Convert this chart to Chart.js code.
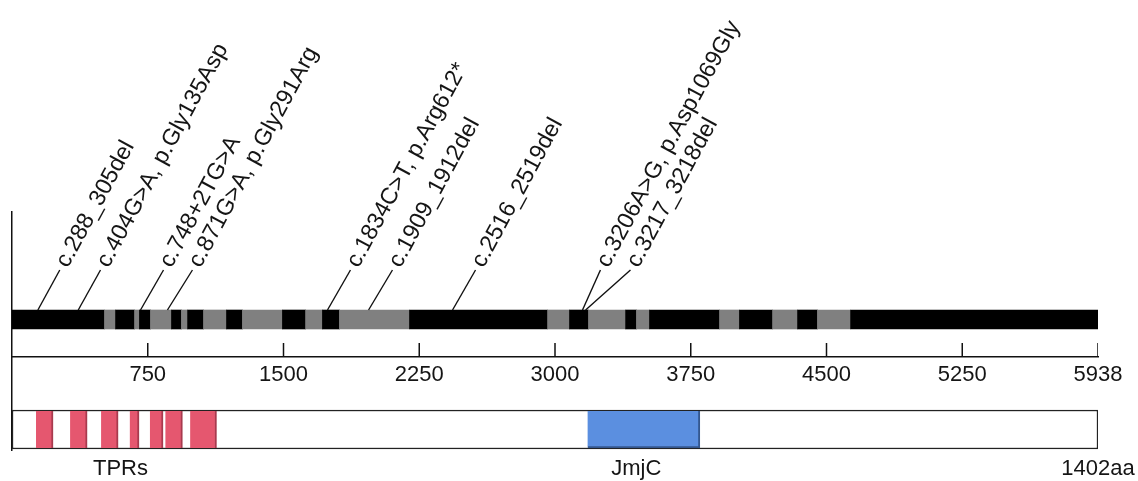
<!DOCTYPE html>
<html>
<head>
<meta charset="utf-8">
<title>Variant map</title>
<script src="https://cdn.jsdelivr.net/npm/chart.js@4.4.1/dist/chart.umd.min.js"></script>
<style>
  html, body { margin: 0; padding: 0; background: #fff; }
  #wrap { width: 1138px; height: 481px; }
</style>
</head>
<body>
<div id="wrap"><canvas id="chart"></canvas></div>
<script>
// cDNA axis, drawn 0..6000; the last tick marks the transcript end (5938)
var EXON_BREAKS = [0, 511, 572, 677, 704, 765, 881, 936, 970, 1058, 1185, 1273, 1494, 1622, 1715,
                   1809, 2196, 2959, 3080, 3185, 3390, 3450, 3522, 3909, 4019, 4202, 4340, 4450, 4633, 6000];
var TICK_VALUES = [750, 1500, 2250, 3000, 3750, 4500, 5250, 6000];
var TICK_LABELS = ['750', '1500', '2250', '3000', '3750', '4500', '5250', '5938'];

var MUT_LABELS = [
    'c.288_305del',
    'c.404G>A, p.Gly135Asp',
    'c.748+2TG>A',
    'c.871G>A, p.Gly291Arg',
    'c.1834C>T, p.Arg612*',
    'c.1909_1912del',
    'c.2516_2519del',
    'c.3206A>G, p.Asp1069Gly',
    'c.3217_3218del'
];
var MUT_POS = [143, 366, 710, 859, 1743, 1970, 2434, 3152, 3169];        // where the leader meets the bar
var MUT_LABEL_POS = [264, 489, 837, 997, 1870, 2102, 2561, 3251, 3417];  // where the label starts

// protein, in amino acids
var PROTEIN_LENGTH = 1402;
var TPR_START = [31, 75, 115, 152, 178, 198, 230];
var TPR_END = [53, 97, 137, 164, 195, 220, 264];
var JMJC_START = [743];
var JMJC_END = [888];
var DOMAIN_LABELS = ['TPRs', 'JmjC', '1402aa'];
var DOMAIN_LABEL_POS = [140, 806, 1402];

// layout (y scale runs 0..238 downwards over the plot area)
var GENE_ROW = 107.5;
var BAR_TOP = 98;
var LINE_TOP = 58;
var TICK_MID = 138;
var AXIS_ROW = 145;
var PROTEIN_ROW = 217.5;
var DOMAIN_LABEL_ROW = 257;
var LABEL_ANGLE = 61.5;
var FONT_FAMILY = "'Liberation Sans', Arial, Helvetica, sans-serif";

var exonData = [];
var exonColors = [];
for (var i = 0; i < EXON_BREAKS.length - 1; i++) {
    exonData.push({ x: [EXON_BREAKS[i], EXON_BREAKS[i + 1]], y: GENE_ROW });
    exonColors.push(i % 2 === 0 ? '#000000' : '#808080');
}

var mutationLines = MUT_LABELS.map(function(label, i) {
    return {
        type: 'line',
        label: label,
        data: [{ x: MUT_POS[i], y: BAR_TOP }, { x: MUT_LABEL_POS[i], y: LINE_TOP }],
        borderColor: '#111',
        borderWidth: 1.4,
        pointRadius: 0,
        xAxisID: 'x',
        yAxisID: 'y',
        order: 0
    };
});

// text that is not an axis label: mutation names and domain names
var annotationPlugin = {
    id: 'annotations',
    afterDatasetsDraw: function(chart) {
        var ctx = chart.ctx;
        var x = chart.scales.x, xp = chart.scales.xp, y = chart.scales.y;
        var a = -LABEL_ANGLE * Math.PI / 180;
        ctx.save();
        ctx.fillStyle = '#151515';
        ctx.font = '23.3px ' + FONT_FAMILY;
        ctx.textAlign = 'left';
        ctx.textBaseline = 'middle';
        MUT_LABELS.forEach(function(label, i) {
            var px = x.getPixelForValue(MUT_LABEL_POS[i]) + 5 * Math.cos(a);
            var py = y.getPixelForValue(LINE_TOP) + 5 * Math.sin(a);
            ctx.save();
            ctx.translate(px, py);
            ctx.rotate(a);
            ctx.fillText(label, 0, 0);
            ctx.restore();
        });
        ctx.font = '22px ' + FONT_FAMILY;
        ctx.textAlign = 'center';
        DOMAIN_LABELS.forEach(function(label, i) {
            ctx.fillText(label, xp.getPixelForValue(DOMAIN_LABEL_POS[i]), y.getPixelForValue(DOMAIN_LABEL_ROW));
        });
        ctx.restore();
    }
};

var ctx = document.getElementById('chart').getContext('2d');
var chart = new Chart(ctx, {
    type: 'bar',
    data: {
        datasets: [
            {
                label: 'exons',
                data: exonData,
                backgroundColor: exonColors,
                borderWidth: 0,
                barThickness: 19,
                grouped: false,
                xAxisID: 'x',
                yAxisID: 'y',
                order: 3
            },
            {
                label: 'protein',
                data: [{ x: [0, PROTEIN_LENGTH], y: PROTEIN_ROW }],
                backgroundColor: '#ffffff',
                borderColor: '#222',
                borderWidth: 1.5,
                borderSkipped: false,
                barThickness: 39,
                grouped: false,
                xAxisID: 'xp',
                yAxisID: 'y',
                order: 5
            },
            {
                label: 'TPR',
                data: TPR_START.map(function(s, i) { return { x: [s, TPR_END[i]], y: PROTEIN_ROW }; }),
                backgroundColor: '#E5576F',
                borderColor: '#A83A4E',
                borderWidth: { right: 2, left: 0, top: 0, bottom: 0 },
                borderSkipped: false,
                barThickness: 37,
                grouped: false,
                xAxisID: 'xp',
                yAxisID: 'y',
                order: 2
            },
            {
                label: 'JmjC',
                data: JMJC_START.map(function(s, i) { return { x: [s, JMJC_END[i]], y: PROTEIN_ROW }; }),
                backgroundColor: '#5B8FE0',
                borderColor: '#34578F',
                borderWidth: { right: 2, bottom: 2, left: 0, top: 0 },
                borderSkipped: false,
                barThickness: 37,
                grouped: false,
                xAxisID: 'xp',
                yAxisID: 'y',
                order: 2
            },
            {
                type: 'line',
                label: 'ticks',
                data: TICK_VALUES.map(function(v) { return { x: v, y: TICK_MID }; }),
                showLine: false,
                pointStyle: 'line',
                pointRotation: 90,
                pointRadius: 7,
                pointBorderWidth: 1.5,
                pointBorderColor: '#111',
                xAxisID: 'x',
                yAxisID: 'y',
                order: 1
            }
        ].concat(mutationLines)
    },
    options: {
        indexAxis: 'y',
        responsive: true,
        maintainAspectRatio: false,
        animation: false,
        events: [],
        layout: {
            padding: { top: 212, bottom: 31, left: 12, right: 40 }
        },
        plugins: {
            legend: { display: false },
            tooltip: { enabled: false }
        },
        scales: {
            x: {
                type: 'linear',
                axis: 'x',
                min: 0,
                max: 6000,
                offset: false,
                position: { y: AXIS_ROW },
                afterBuildTicks: function(scale) {
                    scale.ticks = TICK_VALUES.map(function(v) { return { value: v }; });
                },
                afterFit: function(scale) { scale.height = 0; },
                grid: { display: false, drawTicks: false },
                border: { display: true, color: '#111', width: 1.5 },
                ticks: {
                    padding: 5,
                    color: '#151515',
                    autoSkip: false,
                    maxRotation: 0,
                    font: { family: FONT_FAMILY, size: 22 },
                    callback: function(value) {
                        return TICK_LABELS[TICK_VALUES.indexOf(value)];
                    }
                }
            },
            xp: {
                type: 'linear',
                axis: 'x',
                min: 0,
                max: PROTEIN_LENGTH,
                offset: false,
                display: false
            },
            y: {
                type: 'linear',
                min: 0,
                max: 238,
                offset: false,
                grace: 0,
                reverse: true,
                position: 'left',
                afterFit: function(scale) { scale.width = 0; },
                grid: { display: false, drawTicks: false, offset: false },
                border: { display: true, color: '#111', width: 1.5 },
                ticks: { display: false }
            }
        }
    },
    plugins: [annotationPlugin]
});
</script>
</body>
</html>
